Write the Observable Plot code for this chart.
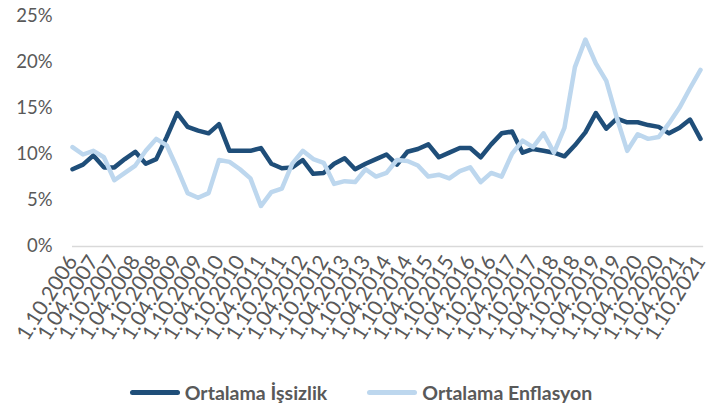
<!DOCTYPE html>
<html>
<head>
<meta charset="utf-8">
<script src="https://cdn.jsdelivr.net/npm/d3@7"></script>
<script src="https://cdn.jsdelivr.net/npm/@observablehq/plot@0.6"></script>
<style>
  html, body { margin: 0; padding: 0; background: #fff; }
  #chart { width: 722px; }
  .legend { display: flex; justify-content: center; align-items: center; gap: 40px; height: 32px;
            font-family: Lato, "Open Sans", sans-serif; font-weight: bold; font-size: 19.5px; color: #595959; }
  .legend span.item { display: flex; align-items: center; gap: 5px; }
  .legend span.sw { display: inline-block; width: 50px; height: 5px; border-radius: 3px; }
</style>
</head>
<body>
<div id="chart"></div>
<script>
const dates = [
  "1.10.2006","1.01.2007","1.04.2007","1.07.2007","1.10.2007","1.01.2008","1.04.2008","1.07.2008",
  "1.10.2008","1.01.2009","1.04.2009","1.07.2009","1.10.2009","1.01.2010","1.04.2010","1.07.2010",
  "1.10.2010","1.01.2011","1.04.2011","1.07.2011","1.10.2011","1.01.2012","1.04.2012","1.07.2012",
  "1.10.2012","1.01.2013","1.04.2013","1.07.2013","1.10.2013","1.01.2014","1.04.2014","1.07.2014",
  "1.10.2014","1.01.2015","1.04.2015","1.07.2015","1.10.2015","1.01.2016","1.04.2016","1.07.2016",
  "1.10.2016","1.01.2017","1.04.2017","1.07.2017","1.10.2017","1.01.2018","1.04.2018","1.07.2018",
  "1.10.2018","1.01.2019","1.04.2019","1.07.2019","1.10.2019","1.01.2020","1.04.2020","1.07.2020",
  "1.10.2020","1.01.2021","1.04.2021","1.07.2021","1.10.2021"
];
const issizlik = [
  8.4, 8.9, 9.9, 8.6, 8.6, 9.5, 10.3, 9.0, 9.5, 11.9, 14.5, 13.0, 12.6, 12.3, 13.3, 10.4,
  10.4, 10.4, 10.7, 9.0, 8.5, 8.6, 9.4, 7.9, 8.0, 9.0, 9.6, 8.4, 9.0, 9.5, 10.0, 8.9,
  10.3, 10.6, 11.1, 9.7, 10.2, 10.7, 10.7, 9.7, 11.1, 12.3, 12.5, 10.2, 10.6, 10.4, 10.2, 9.8,
  11.0, 12.4, 14.5, 12.8, 13.9, 13.5, 13.5, 13.2, 13.0, 12.3, 12.9, 13.8, 11.7
];
const enflasyon = [
  10.8, 10.0, 10.4, 9.7, 7.2, 8.0, 8.8, 10.4, 11.7, 11.0, 8.5, 5.8, 5.3, 5.8, 9.4, 9.2,
  8.4, 7.4, 4.4, 5.9, 6.3, 9.0, 10.4, 9.5, 9.1, 6.8, 7.1, 7.0, 8.4, 7.6, 8.0, 9.4,
  9.3, 8.8, 7.6, 7.8, 7.4, 8.2, 8.6, 7.0, 8.0, 7.6, 10.1, 11.5, 10.8, 12.3, 10.2, 12.9,
  19.5, 22.5, 19.9, 18.0, 14.0, 10.4, 12.2, 11.7, 11.9, 13.4, 15.1, 17.2, 19.2
];
const seriesNames = ["Ortalama İşsizlik", "Ortalama Enflasyon"];
const colors = ["#1F4E79", "#BDD7EE"];
const yTicks = [0, 0.05, 0.10, 0.15, 0.20, 0.25];

const rows = [];
dates.forEach((d, i) => {
  rows.push({i, date: d, series: seriesNames[0], value: issizlik[i] / 100});
  rows.push({i, date: d, series: seriesNames[1], value: enflasyon[i] / 100});
});
const xTicks = d3.range(0, dates.length, 2);

const chart = Plot.plot({
  width: 722,
  height: 376,
  marginLeft: 72,
  marginRight: 22,
  marginTop: 16,
  marginBottom: 130,
  style: {fontFamily: "Lato, 'Open Sans', sans-serif", color: "#595959", background: "#fff"},
  x: {domain: [0, dates.length - 1]},
  y: {domain: [0, 0.25]},
  color: {domain: seriesNames, range: colors},
  marks: [
    Plot.ruleY([0], {stroke: "#D9D9D9", strokeWidth: 1.5, x1: 0, x2: dates.length - 0.7}),
    Plot.axisY({ticks: yTicks, tickFormat: d => Math.round(d * 100) + "%", tickSize: 0, tickPadding: 20, fontSize: 18.5, fill: "#595959", label: null}),
    Plot.axisX({ticks: xTicks, tickFormat: i => dates[i], tickSize: 0, tickRotate: -58, tickPadding: 11, fontSize: 21, fill: "#595959", label: null}),
    Plot.line(rows, {x: "i", y: "value", z: "series", stroke: "series", strokeWidth: 4.5, strokeLinejoin: "round", strokeLinecap: "round"})
  ]
});
document.getElementById("chart").appendChild(chart);

const legend = document.createElement("div");
legend.className = "legend";
seriesNames.forEach((name, k) => {
  const item = document.createElement("span");
  item.className = "item";
  const sw = document.createElement("span");
  sw.className = "sw";
  sw.style.background = colors[k];
  item.appendChild(sw);
  item.appendChild(document.createTextNode(name));
  legend.appendChild(item);
});
document.getElementById("chart").appendChild(legend);
</script>
</body>
</html>
